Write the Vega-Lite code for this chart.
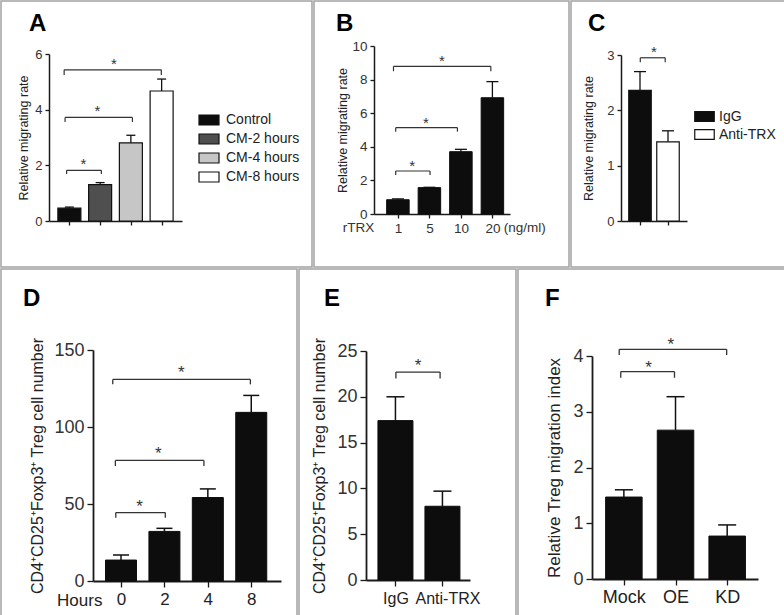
{
"$schema": "https://vega.github.io/schema/vega-lite/v6.json",
"padding": 0,
"background": "white",
"config": {
  "font": "Liberation Sans",
  "view": {"stroke": "#a3a3a3", "strokeWidth": 1.5},
  "axis": {"grid": false, "domainColor": "#1a1a1a", "domainWidth": 1.5, "tickColor": "#1a1a1a", "tickWidth": 1.3, "labelColor": "#333", "titleColor": "#222", "titleFontWeight": "normal", "labelFont": "Liberation Sans", "titleFont": "Liberation Sans", "labelFlush": false, "labelOverlap": false, "labelPadding": 3},
  "title": {"fontWeight": "bold", "font": "Liberation Sans", "color": "#000", "anchor": "start", "frame": "group", "baseline": "alphabetic", "fontSize": 24},
  "legend": {"padding": 0, "labelFont": "Liberation Sans"},
  "text": {"font": "Liberation Sans"}
},
"datasets": {
  "aBars": [{"g":"Control","i":0,"v":0.46,"hi":0.5},{"g":"CM-2 hours","i":1,"v":1.31,"hi":1.38},{"g":"CM-4 hours","i":2,"v":2.81,"hi":3.08},{"g":"CM-8 hours","i":3,"v":4.67,"hi":5.1}],
  "aBr": [{"a":-0.09,"b":1.04,"y":1.82,"yl":1.69,"m":0.46},{"a":-0.14,"b":2.05,"y":3.72,"yl":3.56,"m":0.91},{"a":-0.17,"b":2.99,"y":5.43,"yl":5.25,"m":1.45}],
  "bBars": [{"i":0,"v":0.85,"hi":0.9},{"i":1,"v":1.57,"hi":1.59},{"i":2,"v":3.71,"hi":3.85},{"i":3,"v":6.92,"hi":7.88}],
  "bBr": [{"a":-0.07,"b":1.02,"y":2.56,"yl":2.32,"m":0.45},{"a":-0.07,"b":1.89,"y":5.14,"yl":4.9,"m":0.89},{"a":-0.14,"b":2.95,"y":8.79,"yl":8.5,"m":1.4}],
  "cBars": [{"g":"IgG","i":0,"v":2.36,"hi":2.7},{"g":"Anti-TRX","i":1,"v":1.43,"hi":1.63}],
  "cBr": [{"a":0.01,"b":0.9,"y":2.95,"yl":2.87,"m":0.5}],
  "dBars": [{"i":0,"v":13.6,"hi":16.9},{"i":1,"v":32.2,"hi":34.2},{"i":2,"v":54.2,"hi":59.8},{"i":3,"v":109.5,"hi":120.5}],
  "dBr": [{"a":-0.12,"b":1.02,"y":44.4,"yl":41.1,"m":0.43},{"a":-0.13,"b":1.91,"y":78.3,"yl":74.7,"m":0.86},{"a":-0.19,"b":2.98,"y":130.9,"yl":127.7,"m":1.39}],
  "eBars": [{"i":0,"v":17.4,"hi":20},{"i":1,"v":8.05,"hi":9.7}],
  "eBr": [{"a":0.01,"b":0.95,"y":22.7,"yl":22.0,"m":0.48}],
  "fBars": [{"i":0,"v":1.47,"hi":1.6},{"i":1,"v":2.67,"hi":3.27},{"i":2,"v":0.77,"hi":0.97}],
  "fBr": [{"a":-0.06,"b":0.98,"y":3.72,"yl":3.61,"m":0.48},{"a":-0.09,"b":1.99,"y":4.12,"yl":4.02,"m":0.91}]
},
"spacing": 0,
"vconcat": [
{
  "spacing": 0,
  "resolve": {"scale": {"fill": "independent"}, "legend": {"fill": "independent"}},
  "hconcat": [
  {
    "width": 311, "height": 266,
    "title": {"text": "A", "offset": -35, "dx": 28},
    "layer": [
      {"data": {"name": "aBars"}, "mark": {"type": "bar", "orient": "vertical", "width": 23, "stroke": "#111", "strokeWidth": 1.2},
       "encoding": {
         "x": {"field": "i", "type": "quantitative", "scale": {"domain": [-0.5, 3.5], "range": [48, 181], "nice": false, "zero": false}, "axis": {"values": [0,1,2,3], "labels": false, "tickSize": 4, "offset": -46, "title": null}},
         "y": {"field": "v", "type": "quantitative", "stack": null, "scale": {"domain": [0, 6], "range": [220, 53], "nice": false}, "axis": {"values": [0,2,4,6], "format": "d", "tickSize": 4, "offset": -48, "title": "Relative migrating rate", "labelFontSize": 13, "titleFontSize": 12.5, "titlePadding": 4}},
         "fill": {"field": "g", "type": "nominal", "sort": ["Control","CM-2 hours","CM-4 hours","CM-8 hours"], "scale": {"domain": ["Control","CM-2 hours","CM-4 hours","CM-8 hours"], "range": ["#0d0d0d","#4f4f4f","#c6c6c6","#ffffff"]},
           "legend": {"title": null, "orient": "none", "legendX": 197, "legendY": 108, "symbolType": "M-1,-0.5H1V0.5H-1Z", "symbolSize": 400, "symbolStrokeColor": "#111", "symbolStrokeWidth": 1.2, "symbolOpacity": 1, "labelFontSize": 14, "labelColor": "#222", "labelOffset": 6, "rowPadding": -1}}
       }},
      {"data": {"name": "aBars"}, "mark": {"type": "rule", "color": "#111", "strokeWidth": 1.3},
       "encoding": {"x": {"field": "i", "type": "quantitative"}, "y": {"field": "v", "type": "quantitative"}, "y2": {"field": "hi"}}},
      {"data": {"name": "aBars"}, "mark": {"type": "tick", "orient": "horizontal", "size": 9, "thickness": 1.3, "color": "#111", "opacity": 1},
       "encoding": {"x": {"field": "i", "type": "quantitative"}, "y": {"field": "hi", "type": "quantitative"}}},
      {"data": {"name": "aBr"}, "mark": {"type": "rule", "color": "#333", "strokeWidth": 1.2},
       "encoding": {"x": {"field": "a", "type": "quantitative"}, "x2": {"field": "b"}, "y": {"field": "y", "type": "quantitative"}}},
      {"data": {"name": "aBr"}, "mark": {"type": "rule", "color": "#333", "strokeWidth": 1.2},
       "encoding": {"x": {"field": "a", "type": "quantitative"}, "y": {"field": "y", "type": "quantitative"}, "y2": {"field": "yl"}}},
      {"data": {"name": "aBr"}, "mark": {"type": "rule", "color": "#333", "strokeWidth": 1.2},
       "encoding": {"x": {"field": "b", "type": "quantitative"}, "y": {"field": "y", "type": "quantitative"}, "y2": {"field": "yl"}}},
      {"data": {"name": "aBr"}, "mark": {"type": "text", "text": "*", "fontSize": 15, "baseline": "alphabetic", "dy": -1, "color": "#333"},
       "encoding": {"x": {"field": "m", "type": "quantitative"}, "y": {"field": "y", "type": "quantitative"}}}
    ]
  },
  {
    "width": 255, "height": 266,
    "title": {"text": "B", "offset": -35, "dx": 22},
    "layer": [
      {"data": {"name": "bBars"}, "mark": {"type": "bar", "orient": "vertical", "width": 22.5, "fill": "#0d0d0d", "stroke": "#0d0d0d"},
       "encoding": {
         "x": {"field": "i", "type": "quantitative", "scale": {"domain": [-0.6, 3.4], "range": [60, 196], "nice": false, "zero": false}, "axis": {"values": [0,1,2,3], "labelExpr": "datum.value == 0 ? '1' : datum.value == 1 ? '5' : datum.value == 2 ? '10' : '20'", "labelFontSize": 13.5, "tickSize": 4, "offset": -53, "title": null}},
         "y": {"field": "v", "type": "quantitative", "stack": null, "scale": {"domain": [0, 10], "range": [213, 45], "nice": false}, "axis": {"values": [0,2,4,6,8,10], "format": "d", "tickSize": 4, "offset": -60, "title": "Relative migrating rate", "labelFontSize": 13.5, "titleFontSize": 12.5, "titlePadding": 2}}
       }},
      {"data": {"values": [{"t": "rTRX"}]}, "mark": {"type": "text", "fontSize": 13.5, "baseline": "top", "dy": 7, "color": "#333"},
       "encoding": {"text": {"field": "t"}, "x": {"datum": -1.25}, "y": {"datum": 0}}},
      {"data": {"values": [{"t": "(ng/ml)"}]}, "mark": {"type": "text", "fontSize": 13.5, "baseline": "top", "dy": 7, "color": "#333"},
       "encoding": {"text": {"field": "t"}, "x": {"datum": 4.03}, "y": {"datum": 0}}},
      {"data": {"name": "bBars"}, "mark": {"type": "rule", "color": "#111", "strokeWidth": 1.3},
       "encoding": {"x": {"field": "i", "type": "quantitative"}, "y": {"field": "v", "type": "quantitative"}, "y2": {"field": "hi"}}},
      {"data": {"name": "bBars"}, "mark": {"type": "tick", "orient": "horizontal", "size": 12, "thickness": 1.3, "color": "#111", "opacity": 1},
       "encoding": {"x": {"field": "i", "type": "quantitative"}, "y": {"field": "hi", "type": "quantitative"}}},
      {"data": {"name": "bBr"}, "mark": {"type": "rule", "color": "#333", "strokeWidth": 1.2},
       "encoding": {"x": {"field": "a", "type": "quantitative"}, "x2": {"field": "b"}, "y": {"field": "y", "type": "quantitative"}}},
      {"data": {"name": "bBr"}, "mark": {"type": "rule", "color": "#333", "strokeWidth": 1.2},
       "encoding": {"x": {"field": "a", "type": "quantitative"}, "y": {"field": "y", "type": "quantitative"}, "y2": {"field": "yl"}}},
      {"data": {"name": "bBr"}, "mark": {"type": "rule", "color": "#333", "strokeWidth": 1.2},
       "encoding": {"x": {"field": "b", "type": "quantitative"}, "y": {"field": "y", "type": "quantitative"}, "y2": {"field": "yl"}}},
      {"data": {"name": "bBr"}, "mark": {"type": "text", "text": "*", "fontSize": 15, "baseline": "alphabetic", "dy": 0, "color": "#333"},
       "encoding": {"x": {"field": "m", "type": "quantitative"}, "y": {"field": "y", "type": "quantitative"}}}
    ]
  },
  {
    "width": 216, "height": 266,
    "title": {"text": "C", "offset": -35, "dx": 17},
    "layer": [
      {"data": {"name": "cBars"}, "mark": {"type": "bar", "orient": "vertical", "width": 22.5, "stroke": "#111", "strokeWidth": 1.2},
       "encoding": {
         "x": {"field": "i", "type": "quantitative", "scale": {"domain": [-0.5, 1.5], "range": [50, 116], "nice": false, "zero": false}, "axis": {"values": [0,1], "labels": false, "tickSize": 4, "offset": -46, "title": null}},
         "y": {"field": "v", "type": "quantitative", "stack": null, "scale": {"domain": [0, 3], "range": [220, 54], "nice": false}, "axis": {"values": [0,1,2,3], "format": "d", "tickSize": 4, "offset": -50, "title": "Relative migrating rate", "labelFontSize": 13, "titleFontSize": 12.5, "titlePadding": 11}},
         "fill": {"field": "g", "type": "nominal", "sort": ["IgG","Anti-TRX"], "scale": {"domain": ["IgG","Anti-TRX"], "range": ["#0d0d0d","#ffffff"]},
           "legend": {"title": null, "orient": "none", "legendX": 123, "legendY": 105, "symbolType": "M-1,-0.5H1V0.5H-1Z", "symbolSize": 380, "symbolStrokeColor": "#111", "symbolStrokeWidth": 1.2, "symbolOpacity": 1, "labelFontSize": 14, "labelColor": "#222", "labelOffset": 4, "rowPadding": -1}}
       }},
      {"data": {"name": "cBars"}, "mark": {"type": "rule", "color": "#111", "strokeWidth": 1.3},
       "encoding": {"x": {"field": "i", "type": "quantitative"}, "y": {"field": "v", "type": "quantitative"}, "y2": {"field": "hi"}}},
      {"data": {"name": "cBars"}, "mark": {"type": "tick", "orient": "horizontal", "size": 12, "thickness": 1.3, "color": "#111", "opacity": 1},
       "encoding": {"x": {"field": "i", "type": "quantitative"}, "y": {"field": "hi", "type": "quantitative"}}},
      {"data": {"name": "cBr"}, "mark": {"type": "rule", "color": "#333", "strokeWidth": 1.2},
       "encoding": {"x": {"field": "a", "type": "quantitative"}, "x2": {"field": "b"}, "y": {"field": "y", "type": "quantitative"}}},
      {"data": {"name": "cBr"}, "mark": {"type": "rule", "color": "#333", "strokeWidth": 1.2},
       "encoding": {"x": {"field": "a", "type": "quantitative"}, "y": {"field": "y", "type": "quantitative"}, "y2": {"field": "yl"}}},
      {"data": {"name": "cBr"}, "mark": {"type": "rule", "color": "#333", "strokeWidth": 1.2},
       "encoding": {"x": {"field": "b", "type": "quantitative"}, "y": {"field": "y", "type": "quantitative"}, "y2": {"field": "yl"}}},
      {"data": {"name": "cBr"}, "mark": {"type": "text", "text": "*", "fontSize": 15, "baseline": "alphabetic", "dy": -1, "color": "#333"},
       "encoding": {"x": {"field": "m", "type": "quantitative"}, "y": {"field": "y", "type": "quantitative"}}}
    ]
  }
  ]
},
{
  "spacing": 0,
  "hconcat": [
  {
    "width": 296, "height": 348,
    "title": {"text": "D", "offset": -42, "dx": 22},
    "layer": [
      {"data": {"name": "dBars"}, "mark": {"type": "bar", "orient": "vertical", "width": 31, "fill": "#0d0d0d", "stroke": "#0d0d0d"},
       "encoding": {
         "x": {"field": "i", "type": "quantitative", "scale": {"domain": [-0.53, 3.57], "range": [92, 280], "nice": false, "zero": false}, "axis": {"values": [0,1,2,3], "labelExpr": "datum.value == 0 ? '0' : datum.value == 1 ? '2' : datum.value == 2 ? '4' : '8'", "labelFontSize": 17, "labelColor": "#222", "tickSize": 6, "labelPadding": 4, "offset": -36, "title": null, "domainWidth": 1.8}},
         "y": {"field": "v", "type": "quantitative", "stack": null, "scale": {"domain": [0, 150], "range": [312, 81], "nice": false}, "axis": {"values": [0,50,100,150], "format": "d", "tickSize": 6, "offset": -92, "title": "CD4⁺CD25⁺Foxp3⁺ Treg cell number", "labelFontSize": 18, "titleFontSize": 16, "titlePadding": 8, "domainWidth": 1.8}}
       }},
      {"data": {"values": [{"t": "Hours"}]}, "mark": {"type": "text", "fontSize": 17, "baseline": "top", "dy": 12, "color": "#222"},
       "encoding": {"text": {"field": "t"}, "x": {"datum": -0.95}, "y": {"datum": 0}}},
      {"data": {"name": "dBars"}, "mark": {"type": "rule", "color": "#111", "strokeWidth": 1.5},
       "encoding": {"x": {"field": "i", "type": "quantitative"}, "y": {"field": "v", "type": "quantitative"}, "y2": {"field": "hi"}}},
      {"data": {"name": "dBars"}, "mark": {"type": "tick", "orient": "horizontal", "size": 16, "thickness": 1.5, "color": "#111", "opacity": 1},
       "encoding": {"x": {"field": "i", "type": "quantitative"}, "y": {"field": "hi", "type": "quantitative"}}},
      {"data": {"name": "dBr"}, "mark": {"type": "rule", "color": "#333", "strokeWidth": 1.3},
       "encoding": {"x": {"field": "a", "type": "quantitative"}, "x2": {"field": "b"}, "y": {"field": "y", "type": "quantitative"}}},
      {"data": {"name": "dBr"}, "mark": {"type": "rule", "color": "#333", "strokeWidth": 1.3},
       "encoding": {"x": {"field": "a", "type": "quantitative"}, "y": {"field": "y", "type": "quantitative"}, "y2": {"field": "yl"}}},
      {"data": {"name": "dBr"}, "mark": {"type": "rule", "color": "#333", "strokeWidth": 1.3},
       "encoding": {"x": {"field": "b", "type": "quantitative"}, "y": {"field": "y", "type": "quantitative"}, "y2": {"field": "yl"}}},
      {"data": {"name": "dBr"}, "mark": {"type": "text", "text": "*", "fontSize": 17, "baseline": "alphabetic", "dy": -1, "color": "#333"},
       "encoding": {"x": {"field": "m", "type": "quantitative"}, "y": {"field": "y", "type": "quantitative"}}}
    ]
  },
  {
    "width": 217, "height": 348,
    "title": {"text": "E", "offset": -42, "dx": 25},
    "layer": [
      {"data": {"name": "eBars"}, "mark": {"type": "bar", "orient": "vertical", "width": 35, "fill": "#0d0d0d", "stroke": "#0d0d0d"},
       "encoding": {
         "x": {"field": "i", "type": "quantitative", "scale": {"domain": [-0.52, 1.48], "range": [67, 171], "nice": false, "zero": false}, "axis": {"values": [0,1], "labelExpr": "datum.value == 0 ? 'IgG' : 'Anti-TRX'", "labelOffset": {"condition": {"test": "datum.value == 1", "value": 5}, "value": 0}, "labelFontSize": 16, "labelColor": "#222", "tickSize": 6, "labelPadding": 4, "offset": -37, "title": null, "domainWidth": 1.8}},
         "y": {"field": "v", "type": "quantitative", "stack": null, "scale": {"domain": [0, 25], "range": [311, 82], "nice": false}, "axis": {"values": [0,5,10,15,20,25], "format": "d", "tickSize": 6, "offset": -67, "title": "CD4⁺CD25⁺Foxp3⁺ Treg cell number", "labelFontSize": 18, "titleFontSize": 16, "titlePadding": 9, "domainWidth": 1.8}}
       }},
      {"data": {"name": "eBars"}, "mark": {"type": "rule", "color": "#111", "strokeWidth": 1.5},
       "encoding": {"x": {"field": "i", "type": "quantitative"}, "y": {"field": "v", "type": "quantitative"}, "y2": {"field": "hi"}}},
      {"data": {"name": "eBars"}, "mark": {"type": "tick", "orient": "horizontal", "size": 18, "thickness": 1.5, "color": "#111", "opacity": 1},
       "encoding": {"x": {"field": "i", "type": "quantitative"}, "y": {"field": "hi", "type": "quantitative"}}},
      {"data": {"name": "eBr"}, "mark": {"type": "rule", "color": "#333", "strokeWidth": 1.3},
       "encoding": {"x": {"field": "a", "type": "quantitative"}, "x2": {"field": "b"}, "y": {"field": "y", "type": "quantitative"}}},
      {"data": {"name": "eBr"}, "mark": {"type": "rule", "color": "#333", "strokeWidth": 1.3},
       "encoding": {"x": {"field": "a", "type": "quantitative"}, "y": {"field": "y", "type": "quantitative"}, "y2": {"field": "yl"}}},
      {"data": {"name": "eBr"}, "mark": {"type": "rule", "color": "#333", "strokeWidth": 1.3},
       "encoding": {"x": {"field": "b", "type": "quantitative"}, "y": {"field": "y", "type": "quantitative"}, "y2": {"field": "yl"}}},
      {"data": {"name": "eBr"}, "mark": {"type": "text", "text": "*", "fontSize": 17, "baseline": "alphabetic", "dy": -1, "color": "#333"},
       "encoding": {"x": {"field": "m", "type": "quantitative"}, "y": {"field": "y", "type": "quantitative"}}}
    ]
  },
  {
    "width": 269, "height": 348,
    "title": {"text": "F", "offset": -42, "dx": 27},
    "layer": [
      {"data": {"name": "fBars"}, "mark": {"type": "bar", "orient": "vertical", "width": 36.5, "fill": "#0d0d0d", "stroke": "#0d0d0d"},
       "encoding": {
         "x": {"field": "i", "type": "quantitative", "scale": {"domain": [-0.52, 2.5], "range": [74, 240], "nice": false, "zero": false}, "axis": {"values": [0,1,2], "labelExpr": "datum.value == 0 ? 'Mock' : datum.value == 1 ? 'OE' : 'KD'", "labelFontSize": 18, "labelColor": "#222", "tickSize": 6, "offset": -38, "title": null, "domainWidth": 1.8}},
         "y": {"field": "v", "type": "quantitative", "stack": null, "scale": {"domain": [0, 4], "range": [310, 87], "nice": false}, "axis": {"values": [0,1,2,3,4], "format": "d", "tickSize": 6, "offset": -74, "title": "Relative Treg migration index", "labelFontSize": 18, "titleFontSize": 17, "titlePadding": 9, "domainWidth": 1.8}}
       }},
      {"data": {"name": "fBars"}, "mark": {"type": "rule", "color": "#111", "strokeWidth": 1.5},
       "encoding": {"x": {"field": "i", "type": "quantitative"}, "y": {"field": "v", "type": "quantitative"}, "y2": {"field": "hi"}}},
      {"data": {"name": "fBars"}, "mark": {"type": "tick", "orient": "horizontal", "size": 18, "thickness": 1.5, "color": "#111", "opacity": 1},
       "encoding": {"x": {"field": "i", "type": "quantitative"}, "y": {"field": "hi", "type": "quantitative"}}},
      {"data": {"name": "fBr"}, "mark": {"type": "rule", "color": "#333", "strokeWidth": 1.3},
       "encoding": {"x": {"field": "a", "type": "quantitative"}, "x2": {"field": "b"}, "y": {"field": "y", "type": "quantitative"}}},
      {"data": {"name": "fBr"}, "mark": {"type": "rule", "color": "#333", "strokeWidth": 1.3},
       "encoding": {"x": {"field": "a", "type": "quantitative"}, "y": {"field": "y", "type": "quantitative"}, "y2": {"field": "yl"}}},
      {"data": {"name": "fBr"}, "mark": {"type": "rule", "color": "#333", "strokeWidth": 1.3},
       "encoding": {"x": {"field": "b", "type": "quantitative"}, "y": {"field": "y", "type": "quantitative"}, "y2": {"field": "yl"}}},
      {"data": {"name": "fBr"}, "mark": {"type": "text", "text": "*", "fontSize": 17, "baseline": "alphabetic", "dy": 1, "color": "#333"},
       "encoding": {"x": {"field": "m", "type": "quantitative"}, "y": {"field": "y", "type": "quantitative"}}}
    ]
  }
  ]
}
]
}
